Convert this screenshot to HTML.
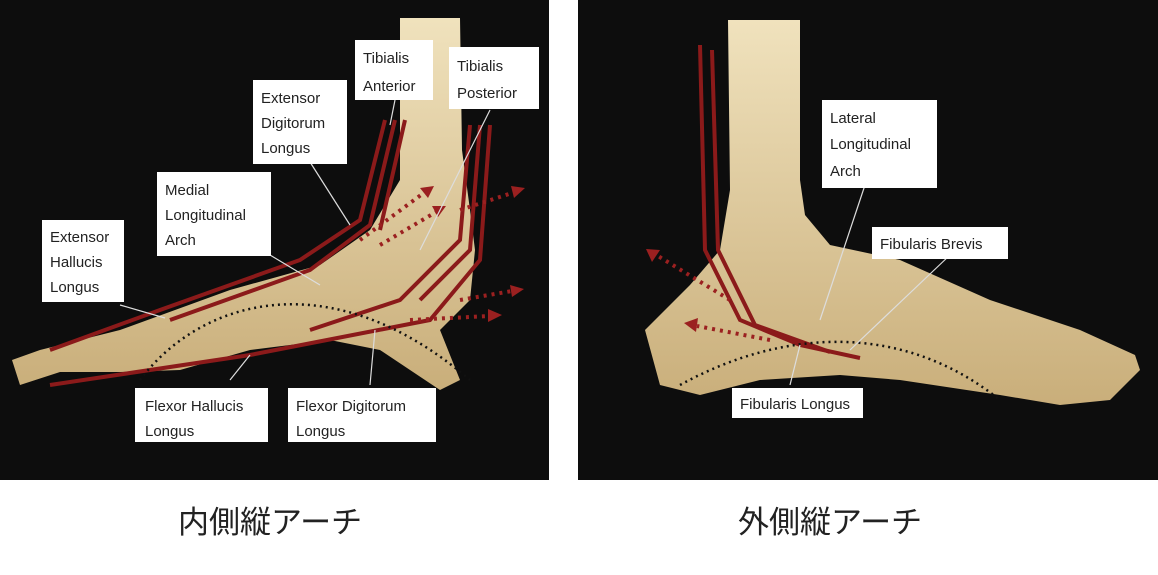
<!DOCTYPE html>
<html><head><meta charset="utf-8"><style>
body{margin:0;background:#fff;width:1158px;height:570px;overflow:hidden}
svg text{font-family:"Liberation Sans",sans-serif;font-size:15px;fill:#222}
.cap{font-family:"Liberation Sans","Noto Sans CJK JP",sans-serif;font-size:31px;fill:#222}
</style></head><body>
<svg width="1158" height="570" viewBox="0 0 1158 570">
<defs>
<linearGradient id="b" x1="0" y1="0" x2="0" y2="1"><stop offset="0" stop-color="#f0e2bd"/><stop offset="1" stop-color="#c9ae7a"/></linearGradient>
</defs>
<rect x="0" y="0" width="549" height="480" fill="#0d0d0d"/>
<rect x="578" y="0" width="580" height="480" fill="#0d0d0d"/>
<path d="M400 18 L460 18 L462 150 L470 210 L475 250 L470 300 L440 330 L460 380 L440 390 L380 350 L330 340 L250 350 L180 370 L120 372 L60 372 L20 385 L12 360 L40 350 L120 330 L230 290 L320 265 L370 230 L400 180 Z" fill="url(#b)"/>
<path d="M728 20 L800 20 L800 180 L805 215 L830 245 L900 260 L990 300 L1080 330 L1135 355 L1140 370 L1110 400 L1060 405 L1000 395 L900 380 L840 375 L760 380 L700 395 L660 385 L645 330 L690 285 L720 250 L730 190 Z" fill="url(#b)"/>
<g stroke="#8b1a1a" stroke-width="4" fill="none">
<path d="M385 120 L360 220 L300 260 L160 310 L50 350"/>
<path d="M395 120 L370 225 L310 270 L170 320"/>
<path d="M405 120 L380 230"/>
<path d="M470 125 L460 240 L400 300 L310 330"/>
<path d="M480 125 L470 250 L420 300"/>
<path d="M490 125 L480 260 L430 320 L250 355 L50 385"/>
<path d="M700 45 L705 250 L740 320 L800 345 L860 358"/>
<path d="M712 50 L718 250 L755 325 L830 352"/>
</g>
<g stroke="#9b2020" stroke-width="4" fill="none" stroke-dasharray="3 5">
<path d="M360 240 L425 192"/><path d="M380 245 L436 212"/><path d="M460 210 L515 192"/><path d="M410 320 L490 316"/><path d="M460 300 L512 291"/>
<path d="M730 300 L658 256"/><path d="M770 340 L697 326"/>
</g>
<g fill="#9b2020">
<polygon points="434,186 420,188 428,198"/><polygon points="446,206 432,206 438,217"/><polygon points="525,188 511,186 514,198"/>
<polygon points="502,315 488,309 488,322"/><polygon points="524,289 510,285 512,297"/>
<polygon points="646,249 660,250 652,262"/><polygon points="684,323 698,318 696,332"/>
</g>
<g stroke="#111" stroke-width="2.5" fill="none" stroke-dasharray="2 4">
<path d="M140 380 C200 300 330 260 470 380"/>
<path d="M680 385 C780 330 900 320 1000 400"/>
</g>
<g stroke="#ddd" stroke-width="1.2">
<line x1="120" y1="305" x2="165" y2="318"/><line x1="270" y1="255" x2="320" y2="285"/><line x1="310" y1="162" x2="350" y2="225"/>
<line x1="395" y1="100" x2="390" y2="125"/><line x1="490" y1="110" x2="420" y2="250"/><line x1="230" y1="380" x2="250" y2="355"/>
<line x1="370" y1="385" x2="375" y2="330"/><line x1="865" y1="185" x2="820" y2="320"/><line x1="950" y1="255" x2="850" y2="350"/><line x1="790" y1="385" x2="800" y2="345"/>
</g>
<g fill="#fff">
<rect x="42" y="220" width="82" height="82"/><rect x="157" y="172" width="114" height="84"/><rect x="253" y="80" width="94" height="84"/>
<rect x="355" y="40" width="78" height="60"/><rect x="449" y="47" width="90" height="62"/><rect x="135" y="388" width="133" height="54"/>
<rect x="288" y="388" width="148" height="54"/><rect x="822" y="100" width="115" height="88"/><rect x="872" y="227" width="136" height="32"/><rect x="732" y="388" width="131" height="30"/>
</g>
<text x="50" y="242">Extensor</text><text x="50" y="267">Hallucis</text><text x="50" y="292">Longus</text>
<text x="165" y="195">Medial</text><text x="165" y="220">Longitudinal</text><text x="165" y="245">Arch</text>
<text x="261" y="103">Extensor</text><text x="261" y="128">Digitorum</text><text x="261" y="153">Longus</text>
<text x="363" y="63">Tibialis</text><text x="363" y="91">Anterior</text>
<text x="457" y="71">Tibialis</text><text x="457" y="98">Posterior</text>
<text x="145" y="411">Flexor Hallucis</text><text x="145" y="436">Longus</text>
<text x="296" y="411">Flexor Digitorum</text><text x="296" y="436">Longus</text>
<text x="830" y="123">Lateral</text><text x="830" y="149">Longitudinal</text><text x="830" y="176">Arch</text>
<text x="880" y="249">Fibularis Brevis</text><text x="740" y="409">Fibularis Longus</text>
<text class="cap" x="178" y="533">内側縦アーチ</text>
<text class="cap" x="738" y="533">外側縦アーチ</text>
</svg>
</body></html>
